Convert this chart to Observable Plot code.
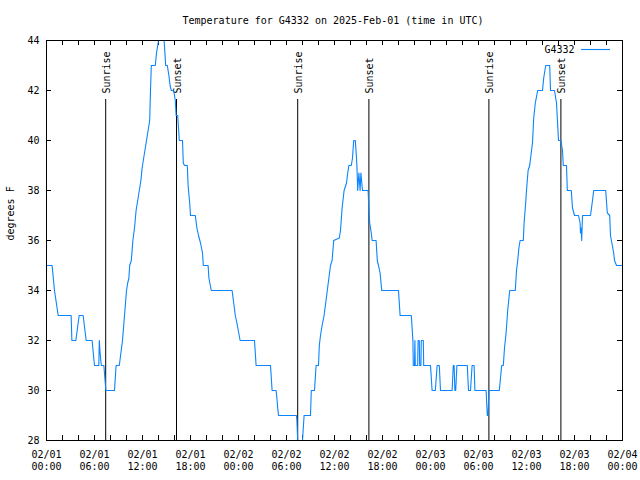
<!DOCTYPE html>
<html>
<head>
<meta charset="utf-8">
<script src="https://cdn.jsdelivr.net/npm/d3@7"></script>
<script src="https://cdn.jsdelivr.net/npm/@observablehq/plot@0.6"></script>
<style>
  html, body { margin: 0; padding: 0; background: #fff; }
</style>
</head>
<body>
<div id="chart"></div>
<script>
// ---- data ----
const titleText = "Temperature for G4332 on 2025-Feb-01 (time in UTC)";
const yLabelText = "degrees F";
const seriesName = "G4332";

// hours since 2025-02-01 00:00 UTC
const hours = [
  0,0.7,1.0,1.46,3.08,3.17,3.67,4.08,4.58,4.96,5.7,6.0,6.54,6.6,6.7,6.85,7.17,7.42,8.5,8.7,
  9.1,9.3,9.5,9.75,10.0,10.15,10.3,10.4,10.6,10.8,11.0,11.2,11.4,11.6,11.8,11.95,12.3,12.5,12.7,12.9,
  13.0,13.1,13.6,13.75,14.0,14.7,14.8,14.9,15.1,15.3,15.45,15.6,15.85,15.95,16.1,16.2,16.4,16.6,17.0,17.1,
  17.25,17.6,17.7,17.9,18.0,18.6,18.8,19.0,19.25,19.5,19.6,20.2,20.3,20.6,23.2,23.4,23.6,23.8,24.2,26.0,
  26.2,28.0,28.1,28.2,28.7,28.8,28.9,29.0,31.25,31.3,31.4,32.0,32.2,33.0,33.1,33.5,33.7,34.0,34.1,34.25,
  34.45,34.7,34.9,35.1,35.3,35.5,35.7,35.9,36.6,36.75,36.95,37.2,37.5,37.65,37.8,38.1,38.25,38.4,38.6,38.75,
  38.8,38.9,39.05,39.2,39.3,39.5,40.2,40.3,40.4,40.6,40.7,41.2,41.35,41.5,41.7,41.9,44.0,44.2,45.6,45.8,
  45.85,46.0,46.05,46.1,46.4,46.45,46.6,46.65,46.8,46.85,47.1,47.15,48.0,48.2,48.6,48.83,49.1,49.25,50.7,50.85,
  50.95,51.05,51.15,51.3,52.6,52.75,53.0,53.2,53.45,53.55,54.95,55.1,55.2,55.3,56.6,56.75,56.9,57.1,57.25,57.45,
  57.65,57.9,58.6,58.75,58.9,59.05,59.2,59.6,59.7,59.9,60.0,60.2,60.4,60.55,60.75,60.9,61.1,61.4,62.0,62.15,
  62.4,62.9,63.0,63.5,63.75,64.0,64.3,64.5,64.6,65.0,65.1,65.6,65.75,66.0,66.5,66.7,66.75,66.85,66.9,67.0,
  68.0,68.25,68.4,69.9,70.1,70.4,70.5,70.9,71.0,71.25,72.0
];
const temps = [
  35,35,34,33,33,32,32,33,33,32,32,31,31,32,31.5,31,31,30,30,31,
  31,31.5,32,33,34,34.3,34.5,35,35.2,36,36.5,37.2,37.6,38,38.4,38.9,39.6,40,40.4,40.8,
  42,43,43,43.5,44,44,43.5,43,43,42.6,42.2,42,42,41.9,41.6,41,41,40,40,39.1,
  39,39,38.2,37.5,37,37,36.5,36.2,35.9,35.5,35,35,34.5,34,34,33.5,33,32.7,32,32,
  31,31,30.5,30,30,29.7,29.3,29,29,28.8,28,28,29,29,30,30,31,31,31.8,32.2,
  32.6,33,33.5,34,34.5,35,35.2,36,36.1,36.4,37.3,38,38.3,38.7,39,39,39.3,40,40,39.3,
  39,38,38.7,38,38.7,38,38,37.3,36.7,36.3,36,36,35.2,35,34.7,34,34,33,33,32,
  31,31,32,31,31,32,32,31,31,32,32,31,31,30,30,31,31,30,30,31,
  31,30,30,31,31,30,30,31,31,30,30,29,29,30,30,30.5,31,31,31.7,32.3,
  33.2,34,34,34.8,35.2,35.7,36,36,36.7,37.5,38,38.8,39,39.4,39.9,40.9,41.5,42,42,42.5,
  43,43,42,42,41.5,40,40,39.6,39,39,38,38,37.3,37,37,36.7,36.3,36.5,36,37,
  37,37.6,38,38,37.1,37,36.2,35.5,35.2,35,35
];

const sunHours = [7.4, 16.25, 31.4, 40.3, 55.3, 64.3];
const sunLabels = ["Sunrise", "Sunset", "Sunrise", "Sunset", "Sunrise", "Sunset"];

const xTickHours = [0,6,12,18,24,30,36,42,48,54,60,66,72];
const xTickDates = ["02/01","02/01","02/01","02/01","02/02","02/02","02/02","02/02","02/03","02/03","02/03","02/03","02/04"];
const xTickTimes = ["00:00","06:00","12:00","18:00","00:00","06:00","12:00","18:00","00:00","06:00","12:00","18:00","00:00"];
const yTicks = [28,30,32,34,36,38,40,42,44];

// ---- layout ----
const W = 640, H = 480;
const mL = 46, mR = 18, mT = 40, mB = 40;
const xMin = 0, xMax = 72, yMin = 28, yMax = 44;
const pw = W - mL - mR, ph = H - mT - mB;
const px2x = p => p * (xMax - xMin) / pw;   // pixel length -> x units
const px2y = p => p * (yMax - yMin) / ph;   // pixel length -> y units

const data = hours.map((h, i) => ({h, t: temps[i]}));
const sun = sunHours.map((h, i) => ({h, label: sunLabels[i]}));
const minor = d3.range(xMin + 2, xMax, 2);
const yInner = yTicks.filter(v => v > yMin && v < yMax);

const tickLen = 5;
const lineColor = "#0b84ff";

const chart = Plot.plot({
  width: W, height: H,
  marginLeft: mL, marginRight: mR, marginTop: mT, marginBottom: mB,
  style: {fontFamily: "'DejaVu Sans Mono', monospace", fontSize: "10px", background: "#fff", color: "#000"},
  x: {domain: [xMin, xMax], axis: null},
  y: {domain: [yMin, yMax], axis: null},
  marks: [
    // x ticks (bottom and top, inward)
    Plot.ruleX(minor, {y1: yMin, y2: yMin + px2y(tickLen), stroke: "black"}),
    Plot.ruleX(minor, {y1: yMax - px2y(tickLen), y2: yMax, stroke: "black"}),
    // y ticks (left and right, inward)
    Plot.ruleY(yInner, {x1: xMin, x2: xMin + px2x(tickLen), stroke: "black"}),
    Plot.ruleY(yInner, {x1: xMax - px2x(tickLen), x2: xMax, stroke: "black"}),
    // tick labels
    Plot.axisX(xTickHours, {anchor: "bottom", tickSize: 0, tickPadding: 10, label: null,
      tickFormat: (d, i) => xTickDates[i]}),
    Plot.axisX(xTickHours, {anchor: "bottom", tickSize: 0, tickPadding: 22.5, label: null,
      tickFormat: (d, i) => xTickTimes[i]}),
    Plot.axisY(yTicks, {anchor: "left", tickSize: 0, tickPadding: 7, label: null}),
    // sunrise / sunset markers
    Plot.ruleX(sun, {x: "h", y1: yMin, y2: yMax - px2y(59), stroke: "black", strokeWidth: 1}),
    Plot.text(sun, {x: "h", y: yMax - px2y(53), text: "label", rotate: -90, textAnchor: "start", dx: 1, fill: "black"}),
    // data line
    Plot.line(data, {x: "h", y: "t", stroke: lineColor, strokeWidth: 1.1, curve: "linear"}),
    // legend
    Plot.text([seriesName], {frameAnchor: "top-right", textAnchor: "end", lineAnchor: "middle", dx: -48, dy: 9, fill: "black"}),
    Plot.ruleY([yMax - px2y(9)], {x1: xMax - px2x(41), x2: xMax - px2x(12), stroke: lineColor, strokeWidth: 1.1}),
    // frame
    Plot.frame({stroke: "black"}),
    // title and axis label
    Plot.text([titleText], {frameAnchor: "top", lineAnchor: "middle", dy: -20, dx: -1.5, fill: "black"}),
    Plot.text([yLabelText], {frameAnchor: "left", dx: -36, rotate: -90, fill: "black"})
  ]
});
document.getElementById("chart").appendChild(chart);
</script>
</body>
</html>
